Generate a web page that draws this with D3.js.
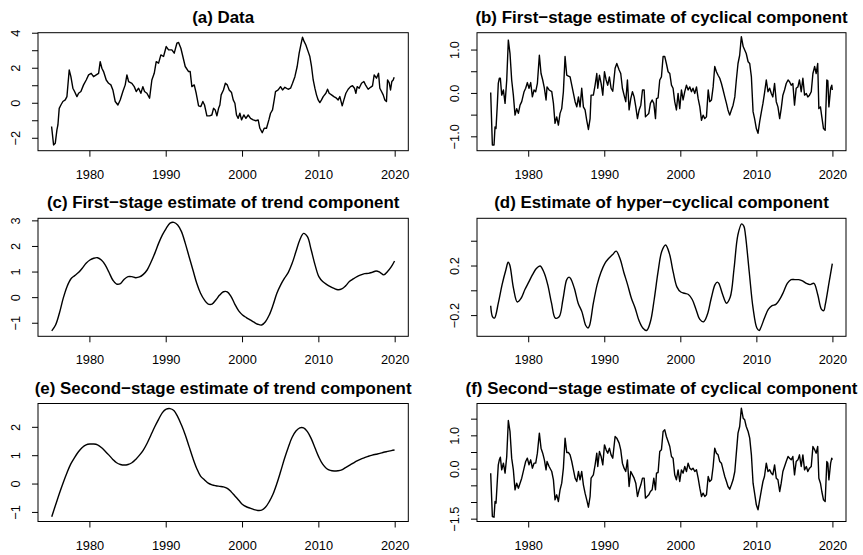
<!DOCTYPE html>
<html>
<head>
<meta charset="utf-8">
<script src="https://cdn.jsdelivr.net/npm/d3@7"></script>
<style>
  html, body { margin: 0; padding: 0; background: #fff; }
  svg { display: block; font-family: "Liberation Sans", Arial, Helvetica, sans-serif; }
</style>
</head>
<body>
<div id="chart"></div>
<script>
// --- data ---
const xTicks = [1980, 1990, 2000, 2010, 2020];

// (a) observed series
const yearsA = [
  1974.98, 1975.24, 1975.46, 1975.68, 1975.81, 1975.98, 1976.2, 1976.46, 1976.77, 1976.99,
  1977.29, 1977.51, 1977.77, 1977.99, 1978.3, 1978.52, 1978.82, 1979.17, 1979.52, 1979.83,
  1980.17, 1980.48, 1980.83, 1981.14, 1981.35, 1981.57, 1981.79, 1982.14, 1982.45, 1982.75,
  1983.01, 1983.32, 1983.67, 1983.97, 1984.32, 1984.63, 1984.85, 1985.07, 1985.5, 1985.81,
  1986.07, 1986.38, 1986.68, 1986.94, 1987.16, 1987.47, 1987.82, 1988.12, 1988.43, 1988.69,
  1989.0, 1989.3, 1989.65, 1990.0, 1990.31, 1990.74, 1991.05, 1991.4, 1991.62, 1991.92,
  1992.18, 1992.49, 1992.93, 1993.14, 1993.36, 1993.67, 1993.93, 1994.24, 1994.54, 1994.8,
  1995.02, 1995.33, 1995.68, 1995.98, 1996.2, 1996.42, 1996.64, 1996.86, 1997.03, 1997.2,
  1997.5, 1997.75, 1998.0, 1998.25, 1998.56, 1998.78, 1999.0, 1999.21, 1999.43, 1999.65,
  1999.87, 2000.17, 2000.44, 2000.74, 2001.05, 2001.4, 2001.75, 2002.05, 2002.27, 2002.58,
  2002.84, 2003.14, 2003.45, 2003.67, 2003.93, 2004.15, 2004.32, 2004.67, 2004.98, 2005.24,
  2005.55, 2005.98, 2006.29, 2006.55, 2006.86, 2007.16, 2007.42, 2007.64, 2007.86, 2008.08,
  2008.3, 2008.6, 2008.82, 2009.04, 2009.26, 2009.48, 2009.69, 2009.91, 2010.13, 2010.35,
  2010.57, 2010.92, 2011.14, 2011.35, 2011.66, 2011.97, 2012.31, 2012.53, 2012.75, 2013.06,
  2013.28, 2013.54, 2013.84, 2014.15, 2014.41, 2014.67, 2014.85, 2015.02, 2015.28, 2015.59,
  2015.9, 2016.11, 2016.46, 2016.77, 2017.03, 2017.25, 2017.55, 2017.82, 2017.99, 2018.21,
  2018.43, 2018.65, 2018.86, 2019.0, 2019.21, 2019.39, 2019.56, 2019.74, 2019.87
];
const dataA = [
  -1.33, -2.38, -2.29, -1.52, -1.24, -0.29, -0.1, 0.1, 0.19, 0.38,
  1.9, 1.52, 0.86, 0.67, 0.38, 0.57, 0.67, 1.05, 1.33, 1.62,
  1.71, 1.52, 1.62, 1.71, 2.38, 2.0, 1.81, 1.33, 1.14, 1.05,
  0.76, 0.1, -0.1, 0.19, 0.67, 1.05, 1.62, 1.24, 1.14, 0.95,
  0.67, 0.86, 0.57, 0.95, 0.67, 0.57, 0.29, 1.33, 1.71, 2.38,
  2.29, 2.76, 2.67, 3.24, 3.05, 3.05, 2.86, 3.43, 3.47, 3.14,
  2.67, 2.1, 1.81, 1.81, 0.95, 1.05, 0.57, -0.15, -0.19, 0.1,
  -0.1, -0.72, -0.72, -0.67, -0.29, -0.38, -0.72, -0.29, -0.1, 0.48,
  0.76, 1.14, 1.05, 0.76, 0.61, 0.19, 0.0, -0.67, -0.86, -0.57,
  -0.95, -0.67, -0.86, -0.67, -0.86, -0.95, -1.0, -0.95, -1.43, -1.68,
  -1.43, -1.43, -0.95, -0.57, -0.38, 0.19, 0.67, 0.76, 0.95, 0.76,
  0.91, 0.8, 0.86, 1.14, 1.52, 2.1, 2.86, 3.33, 3.77, 3.52,
  3.33, 2.95, 2.67, 2.1, 1.33, 0.86, 0.48, 0.19, 0.04, 0.19,
  0.38, 0.57, 0.8, 0.57, 0.48, 0.38, 0.29, 0.19, 0.38, -0.15,
  0.19, 0.57, 0.8, 0.95, 1.0, 0.86, 0.57, 0.95, 0.86, 1.14,
  1.24, 1.05, 0.8, 0.91, 0.99, 1.62, 1.43, 1.71, 0.86, 0.67,
  0.48, 0.19, 0.1, 1.33, 1.18, 0.76, 1.24, 1.33, 1.48
];

// (b) and (f) cyclical series share the same time points
const yearsCyc = [
  1975.0, 1975.22, 1975.44, 1975.57, 1975.7, 1975.88, 1976.0, 1976.14, 1976.27, 1976.45,
  1976.67, 1976.89, 1977.11, 1977.32, 1977.54, 1977.76, 1977.98, 1978.2, 1978.42, 1978.64,
  1978.86, 1979.08, 1979.39, 1979.6, 1979.82, 1980.04, 1980.26, 1980.48, 1980.7, 1980.92,
  1981.14, 1981.4, 1981.62, 1981.84, 1982.06, 1982.28, 1982.41, 1982.68, 1983.03, 1983.25,
  1983.46, 1983.68, 1983.9, 1984.12, 1984.34, 1984.56, 1984.78, 1985.0, 1985.22, 1985.44,
  1985.66, 1985.88, 1986.1, 1986.32, 1986.54, 1986.75, 1986.97, 1987.19, 1987.41, 1987.63,
  1987.85, 1988.07, 1988.2, 1988.5, 1988.73, 1988.95, 1989.08, 1989.3, 1989.52, 1989.74,
  1989.96, 1990.18, 1990.39, 1990.61, 1990.83, 1991.05, 1991.36, 1991.58, 1991.89, 1992.1,
  1992.32, 1992.54, 1992.76, 1992.98, 1993.2, 1993.42, 1993.64, 1993.86, 1994.08, 1994.3,
  1994.52, 1994.74, 1994.96, 1995.18, 1995.35, 1995.57, 1995.79, 1996.0, 1996.23, 1996.45,
  1996.67, 1996.8, 1997.01, 1997.23, 1997.45, 1997.67, 1997.89, 1998.1, 1998.33, 1998.55,
  1998.77, 1998.98, 1999.2, 1999.42, 1999.64, 1999.86, 2000.08, 2000.3, 2000.52, 2000.74,
  2000.96, 2001.18, 2001.4, 2001.6, 2001.84, 2002.06, 2002.28, 2002.5, 2002.72, 2002.93,
  2003.15, 2003.37, 2003.6, 2003.8, 2004.03, 2004.25, 2004.46, 2004.68, 2004.9, 2005.12,
  2005.34, 2005.56, 2005.78, 2006.0, 2006.2, 2006.43, 2006.65, 2006.87, 2007.1, 2007.3,
  2007.52, 2007.74, 2007.96, 2008.2, 2008.4, 2008.6, 2008.85, 2009.06, 2009.28, 2009.5,
  2009.7, 2009.93, 2010.15, 2010.37, 2010.6, 2010.8, 2011.0, 2011.24, 2011.46, 2011.68,
  2011.9, 2012.1, 2012.33, 2012.55, 2012.77, 2013.0, 2013.2, 2013.42, 2013.64, 2013.86,
  2014.1, 2014.3, 2014.52, 2014.73, 2014.95, 2015.17, 2015.4, 2015.6, 2015.83, 2016.05,
  2016.27, 2016.5, 2016.7, 2016.92, 2017.15, 2017.37, 2017.6, 2017.8, 2018.0, 2018.15,
  2018.36, 2018.54, 2018.76, 2018.98, 2019.2, 2019.33, 2019.47, 2019.7, 2019.85, 2019.92
];
const cycleFirst = [
  0.02, -1.19, -1.19, -0.77, -0.81, -0.23, 0.23, 0.35, 0.35, -0.04,
  0.08, -0.23, 0.31, 1.23, 0.92, 0.31, -0.04, -0.5, -0.35, -0.46,
  -0.27, -0.19, 0.04, 0.12, 0.25, 0.12, 0.25, -0.08, 0.08, 0.04,
  0.23, 0.88, 0.46, 0.31, 0.12, -0.15, 0.15, 0.08, 0.04, -0.23,
  -0.69, -0.54, -0.73, -0.46, -0.35, 0.04, 0.85, 0.42, 0.4, 0.38,
  0.19, 0.0, -0.19, -0.31, -0.08, -0.31, 0.12, -0.31, -0.38, -0.62,
  -0.83, -0.58, -0.04, -0.04, 0.19, 0.46, 0.12, 0.42, 0.23, -0.04,
  0.5, 0.31, 0.19, 0.38, 0.12, 0.05, 0.58, 0.69, 0.54, 0.46,
  0.12, -0.04, -0.19, 0.31, -0.38, -0.12, 0.04, -0.08, -0.31, -0.58,
  -0.38, -0.27, 0.08, 0.08, -0.54, -0.5, -0.46, -0.23, -0.15, -0.23,
  -0.58, -0.12, -0.1, 0.31, 0.38, 0.85, 0.85, 0.69, 0.5, 0.46,
  0.19, 0.12, -0.19, -0.38, 0.0, -0.35, 0.08, -0.15, 0.04, 0.19,
  0.08, 0.15, 0.04, 0.12, 0.0, 0.15, -0.12, -0.31, -0.62, -0.5,
  -0.58, -0.54, 0.08, -0.19, -0.15, 0.15, 0.62, 0.5, 0.42, 0.35,
  0.23, 0.08, -0.08, -0.23, -0.38, -0.5, -0.38, -0.27, -0.08, 0.31,
  0.69, 0.88, 1.31, 1.08, 1.0, 0.92, 0.73, 0.69, 0.38, -0.42,
  -0.58, -0.81, -0.92, -0.65, -0.42, -0.23, 0.0, 0.31, 0.04, 0.12,
  0.0, -0.08, 0.23, -0.19, -0.31, -0.58, -0.35, -0.04, 0.08, 0.23,
  0.31, 0.27, 0.19, 0.23, -0.27, 0.12, 0.15, 0.31, 0.04, 0.35,
  -0.04, 0.0, -0.08, -0.04, 0.04, 0.46, 0.62, 0.46, 0.69, -0.35,
  -0.31, -0.54, -0.81, -0.85, 0.31, 0.29, -0.31, 0.12, 0.19, 0.08
];
const cycleSecond = [
  -0.12, -1.42, -1.44, -0.97, -1.02, -0.32, 0.13, 0.28, 0.36, -0.02,
  0.18, -0.12, 0.38, 1.46, 1.13, 0.33, -0.02, -0.62, -0.42, -0.57,
  -0.42, -0.27, 0.03, 0.23, 0.33, 0.13, 0.28, 0.03, 0.18, 0.18,
  0.48, 1.08, 0.63, 0.48, 0.28, -0.02, 0.23, 0.08, -0.07, -0.32,
  -0.92, -0.77, -0.97, -0.62, -0.42, 0.03, 0.93, 0.5, 0.5, 0.43,
  0.23, -0.02, -0.27, -0.37, -0.07, -0.32, -0.07, -0.47, -0.72, -0.92,
  -1.14, -0.82, -0.27, -0.17, 0.13, 0.48, 0.08, 0.53, 0.38, 0.13,
  0.73, 0.58, 0.48, 0.63, 0.43, 0.33, 0.98, 0.93, 0.78, 0.58,
  0.18, 0.03, -0.07, 0.28, -0.52, -0.07, -0.17, -0.27, -0.42, -0.82,
  -0.62, -0.47, -0.27, -0.27, -0.87, -0.82, -0.77, -0.67, -0.62, -0.27,
  -0.62, -0.12, -0.1, 0.53, 0.58, 1.13, 1.18, 0.98, 0.83, 0.68,
  0.38, 0.33, -0.17, -0.32, -0.02, -0.37, -0.02, -0.12, 0.08, -0.07,
  0.18, 0.03, -0.02, 0.03, -0.07, -0.02, -0.27, -0.57, -0.82, -0.72,
  -0.82, -0.77, -0.22, -0.37, -0.32, 0.08, 0.63, 0.48, 0.43, 0.23,
  0.18, -0.02, -0.22, -0.37, -0.52, -0.6, -0.47, -0.32, -0.07, 0.48,
  1.08, 1.28, 1.83, 1.53, 1.48, 1.28, 1.13, 0.93, 0.43, -0.42,
  -0.72, -1.07, -1.22, -0.92, -0.62, -0.37, -0.22, 0.18, -0.07, -0.02,
  -0.12, -0.17, 0.13, -0.27, -0.32, -0.67, -0.42, -0.07, 0.08, 0.23,
  0.38, 0.33, 0.28, 0.38, -0.17, 0.23, 0.28, 0.43, 0.08, 0.43,
  -0.02, 0.08, -0.07, 0.03, 0.08, 0.68, 0.58, 0.48, 0.68, -0.27,
  -0.42, -0.67, -0.92, -0.97, 0.23, 0.18, -0.32, 0.18, 0.33, 0.28
];

// (c) and (e) trend series, half-year points
const yearsTrend = [
  1975.0, 1975.5, 1976.0, 1976.5, 1977.0, 1977.5, 1978.0, 1978.5, 1979.0, 1979.5,
  1980.0, 1980.5, 1981.0, 1981.5, 1982.0, 1982.5, 1983.0, 1983.5, 1984.0, 1984.5,
  1985.0, 1985.5, 1986.0, 1986.5, 1987.0, 1987.5, 1988.0, 1988.5, 1989.0, 1989.5,
  1990.0, 1990.5, 1991.0, 1991.5, 1992.0, 1992.5, 1993.0, 1993.5, 1994.0, 1994.5,
  1995.0, 1995.5, 1996.0, 1996.5, 1997.0, 1997.5, 1998.0, 1998.5, 1999.0, 1999.5,
  2000.0, 2000.5, 2001.0, 2001.5, 2002.0, 2002.5, 2003.0, 2003.5, 2004.0, 2004.5,
  2005.0, 2005.5, 2006.0, 2006.5, 2007.0, 2007.5, 2008.0, 2008.5, 2009.0, 2009.5,
  2010.0, 2010.5, 2011.0, 2011.5, 2012.0, 2012.5, 2013.0, 2013.5, 2014.0, 2014.5,
  2015.0, 2015.5, 2016.0, 2016.5, 2017.0, 2017.5, 2018.0, 2018.5, 2019.0, 2019.5,
  2019.92
];
const trendFirst = [
  -1.30, -1.07, -0.61, -0.03, 0.43, 0.73, 0.86, 0.98, 1.15, 1.34,
  1.47, 1.54, 1.56, 1.47, 1.28, 0.99, 0.69, 0.53, 0.55, 0.72,
  0.82, 0.82, 0.78, 0.81, 0.91, 1.08, 1.38, 1.73, 2.12, 2.45,
  2.71, 2.91, 2.94, 2.84, 2.58, 2.12, 1.6, 1.08, 0.56, 0.17,
  -0.09, -0.25, -0.25, -0.09, 0.1, 0.23, 0.23, 0.04, -0.26, -0.52,
  -0.68, -0.78, -0.87, -0.96, -1.04, -1.07, -0.94, -0.68, -0.29, 0.17,
  0.5, 0.76, 0.99, 1.34, 1.8, 2.25, 2.51, 2.38, 1.86, 1.28,
  0.82, 0.63, 0.52, 0.43, 0.36, 0.31, 0.34, 0.46, 0.63, 0.73,
  0.82, 0.89, 0.94, 0.95, 0.99, 1.04, 0.99, 0.89, 1.02, 1.21,
  1.43
];
const trendSecond = [
  -1.15, -0.74, -0.33, 0.05, 0.4, 0.71, 0.94, 1.14, 1.29, 1.38,
  1.41, 1.41, 1.38, 1.29, 1.16, 1.02, 0.87, 0.75, 0.69, 0.67,
  0.69, 0.75, 0.87, 1.02, 1.2, 1.44, 1.73, 2.02, 2.28, 2.52,
  2.64, 2.66, 2.59, 2.38, 2.08, 1.73, 1.32, 0.91, 0.55, 0.28,
  0.15, 0.03, -0.03, -0.06, -0.08, -0.1, -0.15, -0.27, -0.42, -0.57,
  -0.72, -0.8, -0.85, -0.9, -0.93, -0.92, -0.82, -0.62, -0.35, 0.02,
  0.45, 0.9, 1.3, 1.65, 1.87, 1.98, 1.98, 1.85, 1.6, 1.27,
  0.95, 0.7, 0.55, 0.48, 0.46, 0.47, 0.5, 0.58, 0.66, 0.74,
  0.82, 0.88, 0.93, 0.98, 1.02, 1.05, 1.08, 1.12, 1.15, 1.18,
  1.2
];

// (d) hyper-cyclical component
const yearsHyper = [
  1975.0, 1975.25, 1975.5, 1976.0, 1976.5, 1977.0, 1977.3, 1977.5, 1978.0, 1978.5,
  1979.0, 1979.5, 1980.0, 1980.5, 1981.0, 1981.5, 1982.0, 1982.5, 1983.0, 1983.5,
  1984.0, 1984.5, 1985.0, 1985.3, 1985.5, 1986.0, 1986.5, 1987.0, 1987.5, 1987.8,
  1988.0, 1988.5, 1989.0, 1989.5, 1990.0, 1990.5, 1991.0, 1991.5, 1992.0, 1992.5,
  1993.0, 1993.5, 1994.0, 1994.5, 1995.0, 1995.5, 1996.0, 1996.5, 1997.0, 1997.5,
  1998.0, 1998.5, 1999.0, 1999.5, 2000.0, 2000.5, 2001.0, 2001.5, 2002.0, 2002.5,
  2003.0, 2003.5, 2004.0, 2004.5, 2004.8, 2005.0, 2005.5, 2006.0, 2006.5, 2007.0,
  2007.5, 2008.0, 2008.3, 2008.5, 2009.0, 2009.5, 2010.0, 2010.3, 2010.5, 2011.0,
  2011.5, 2012.0, 2012.5, 2013.0, 2013.5, 2014.0, 2014.5, 2015.0, 2015.5, 2016.0,
  2016.5, 2017.0, 2017.5, 2018.0, 2018.5, 2018.8, 2019.0, 2019.5, 2019.92
];
const hyper = [
  -0.12, -0.21, -0.22, -0.10, 0.05, 0.17, 0.23, 0.21, 0.02, -0.09,
  -0.06, 0.01, 0.07, 0.13, 0.18, 0.2, 0.15, 0.05, -0.1, -0.22,
  -0.21, -0.07, 0.09, 0.11, 0.1, 0.02, -0.1, -0.17, -0.28, -0.3,
  -0.28, -0.1, 0.05, 0.15, 0.22, 0.26, 0.29, 0.32, 0.26, 0.15,
  0.05, -0.06, -0.14, -0.24, -0.3, -0.32, -0.25, -0.07, 0.15, 0.32,
  0.37, 0.3, 0.15, 0.03, -0.01, -0.02, -0.03, -0.07, -0.15, -0.23,
  -0.25, -0.19, -0.06, 0.05, 0.07, 0.06, -0.03, -0.1, -0.05, 0.18,
  0.45, 0.54, 0.52, 0.45, 0.15, -0.14, -0.3, -0.32, -0.3, -0.22,
  -0.15, -0.12, -0.11, -0.07, -0.01, 0.06, 0.09, 0.09, 0.09, 0.08,
  0.06, 0.05, 0.06, -0.03, -0.15, -0.16, -0.11, 0.07, 0.22
];

// --- layout (pixels) ---
const width = 863, height = 555;
const colRange = [[38, 408.3], [477, 846]];
const boxTop = [32.7, 218.3, 403.5];
const boxH = 118;
const xDomain = [1973.2, 2021.72];

const panels = [
  { title: "(a) Data", col: 0, row: 0, years: yearsA, values: dataA,
    yDomain: [-2.71, 4.03], yTicks: [-2, -1, 0, 1, 2, 3, 4], yLabels: [-2, 0, 2, 4], fmt: d3.format(".0f"), smooth: false },
  { title: "(b) First\u2212stage estimate of cyclical component", col: 1, row: 0, years: yearsCyc, values: cycleFirst,
    yDomain: [-1.32, 1.40], yTicks: [-1, -0.5, 0, 0.5, 1], yLabels: [-1, 0, 1], fmt: d3.format(".1f"), smooth: false },
  { title: "(c) First\u2212stage estimate of trend component", col: 0, row: 1, years: yearsTrend, values: trendFirst,
    yDomain: [-1.51, 3.10], yTicks: [-1, 0, 1, 2, 3], yLabels: [-1, 0, 1, 2, 3], fmt: d3.format(".0f"), smooth: true },
  { title: "(d) Estimate of hyper\u2212cyclical component", col: 1, row: 1, years: yearsHyper, values: hyper,
    yDomain: [-0.367, 0.585], yTicks: [-0.2, 0, 0.2, 0.4], yLabels: [-0.2, 0.2], fmt: d3.format(".1f"), smooth: true },
  { title: "(e) Second\u2212stage estimate of trend component", col: 0, row: 2, years: yearsTrend, values: trendSecond,
    yDomain: [-1.32, 2.84], yTicks: [-1, 0, 1, 2], yLabels: [-1, 0, 1, 2], fmt: d3.format(".0f"), smooth: true },
  { title: "(f) Second\u2212stage estimate of cyclical component", col: 1, row: 2, years: yearsCyc, values: cycleSecond,
    yDomain: [-1.57, 1.97], yTicks: [-1.5, -1, -0.5, 0, 0.5, 1, 1.5], yLabels: [-1.5, 0, 1], fmt: d3.format(".1f"), smooth: false }
];

const svg = d3.select("#chart").append("svg")
  .attr("width", width)
  .attr("height", height);

svg.append("rect").attr("width", width).attr("height", height).attr("fill", "#fff");

panels.forEach(p => {
  const [x0, x1] = colRange[p.col];
  const y0 = boxTop[p.row], y1 = y0 + boxH;

  const x = d3.scaleLinear().domain(xDomain).range([x0, x1]);
  const y = d3.scaleLinear().domain(p.yDomain).range([y1, y0]);

  const g = svg.append("g");

  // title
  g.append("text")
    .attr("x", (x0 + x1) / 2)
    .attr("y", y0 - 10)
    .attr("text-anchor", "middle")
    .attr("font-size", "16.9px")
    .attr("font-weight", "bold")
    .attr("fill", "#000")
    .text(p.title);

  // series
  const line = d3.line()
    .x((d, i) => x(p.years[i]))
    .y(d => y(d))
    .curve(p.smooth ? d3.curveCatmullRom.alpha(0.5) : d3.curveLinear);

  g.append("path")
    .datum(p.values)
    .attr("d", line)
    .attr("fill", "none")
    .attr("stroke", "#000")
    .attr("stroke-width", 1.4)
    .attr("stroke-linejoin", "round");

  // box
  g.append("rect")
    .attr("x", x0).attr("y", y0)
    .attr("width", x1 - x0).attr("height", boxH)
    .attr("fill", "none")
    .attr("stroke", "#000")
    .attr("stroke-width", 1);

  // x axis
  const xa = g.append("g").attr("transform", `translate(0,${y1})`);
  xa.selectAll("line").data(xTicks).join("line")
    .attr("x1", d => x(d)).attr("x2", d => x(d))
    .attr("y1", 0).attr("y2", 6)
    .attr("stroke", "#000");
  xa.selectAll("text").data(xTicks).join("text")
    .attr("x", d => x(d))
    .attr("y", 28)
    .attr("text-anchor", "middle")
    .attr("font-size", "12.8px")
    .attr("fill", "#000")
    .text(d => d);

  // y axis
  const ya = g.append("g").attr("transform", `translate(${x0},0)`);
  ya.selectAll("line").data(p.yTicks).join("line")
    .attr("x1", 0).attr("x2", -6)
    .attr("y1", d => y(d)).attr("y2", d => y(d))
    .attr("stroke", "#000");
  ya.selectAll("text").data(p.yLabels).join("text")
    .attr("transform", d => `translate(-18,${y(d)}) rotate(-90)`)
    .attr("text-anchor", "middle")
    .attr("font-size", "12.8px")
    .attr("fill", "#000")
    .text(d => p.fmt(d).replace("-", "\u2212"));
});
</script>
</body>
</html>
